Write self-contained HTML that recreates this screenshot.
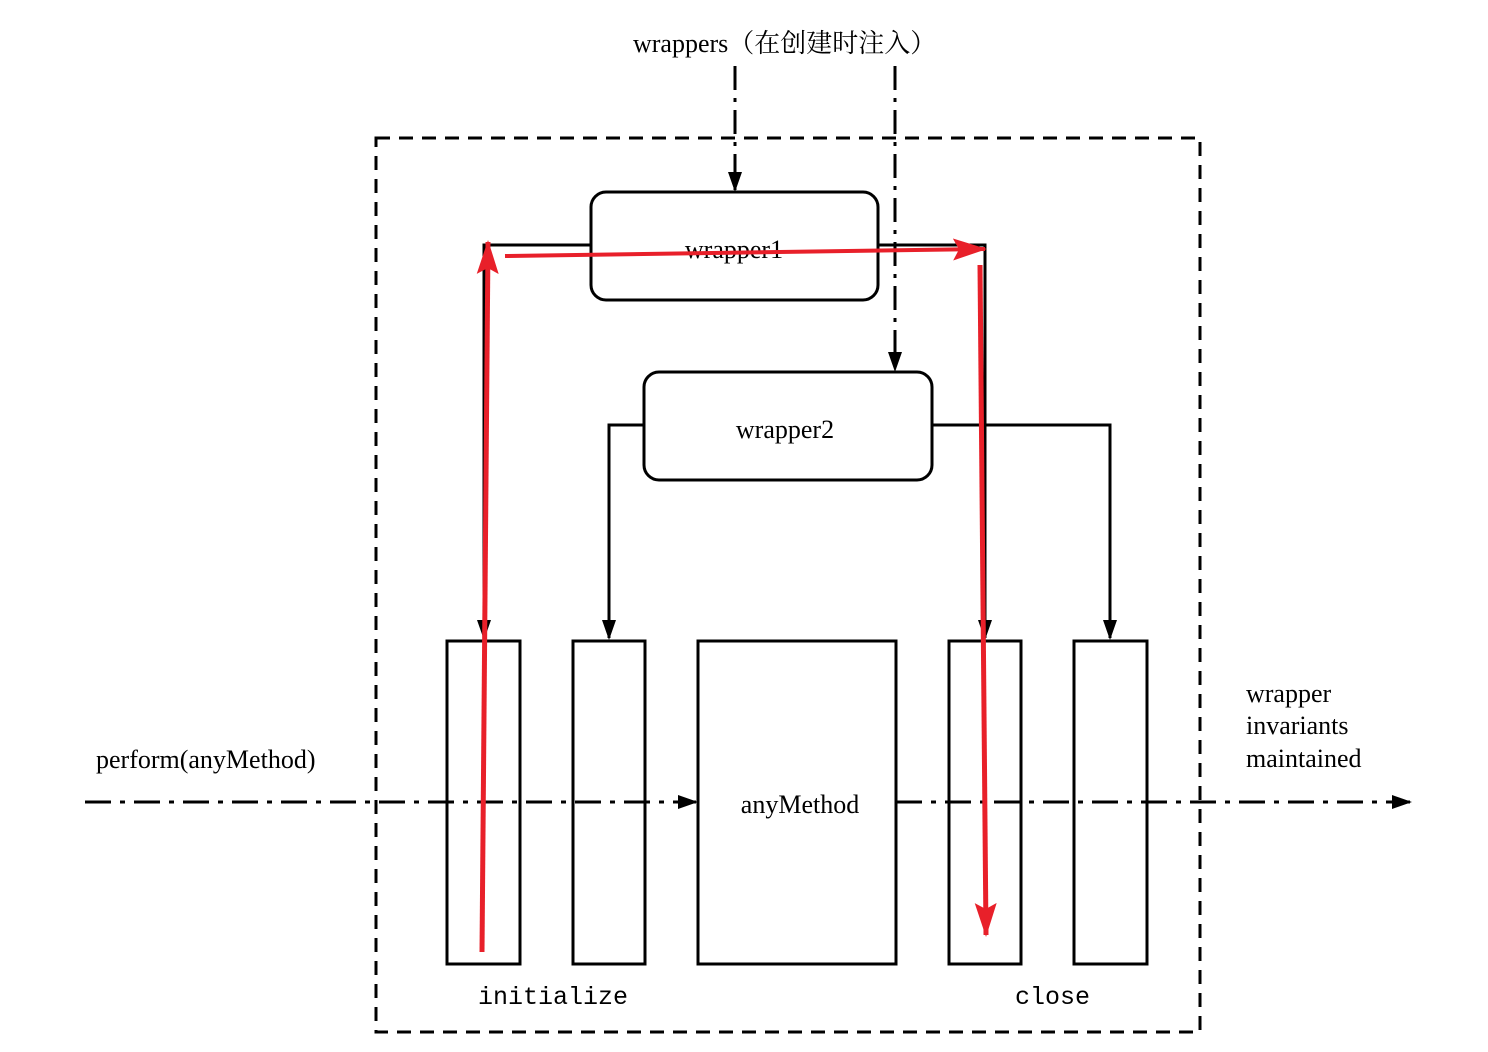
<!DOCTYPE html>
<html><head><meta charset="utf-8"><style>body{margin:0;background:#fff}svg{display:block}</style></head><body>
<svg width="1488" height="1052" viewBox="0 0 1488 1052" xmlns="http://www.w3.org/2000/svg">
<defs>
<marker id="a" markerWidth="10" markerHeight="10" refX="9" refY="5" orient="auto" markerUnits="userSpaceOnUse"><path d="M0,0 L10,5 L0,10z" fill="#000"/></marker>
<marker id="b" markerWidth="20" markerHeight="14" refX="18" refY="7" orient="auto" markerUnits="userSpaceOnUse"><path d="M0,0 L20,7 L0,14z" fill="#000"/></marker>
<marker id="r" markerWidth="34" markerHeight="22" refX="32" refY="11" orient="auto" markerUnits="userSpaceOnUse"><path d="M0,0 L34,11 L0,22 L6,11z" fill="#e8202a"/></marker>
</defs>
<g fill="none" stroke="#000" stroke-width="3">
<rect x="376" y="138" width="824" height="894" stroke-dasharray="14,9"/>
<rect x="591" y="192" width="287" height="108" rx="15"/>
<rect x="644" y="372" width="288" height="108" rx="15"/>
<rect x="447" y="641" width="73" height="323"/>
<rect x="573" y="641" width="72" height="323"/>
<rect x="698" y="641" width="198" height="323"/>
<rect x="949" y="641" width="72" height="323"/>
<rect x="1074" y="641" width="73" height="323"/>
<polyline points="591,245 484,245 484,638" marker-end="url(#b)"/>
<polyline points="878,245 985,245 985,638" marker-end="url(#b)"/>
<polyline points="644,425 609,425 609,638" marker-end="url(#b)"/>
<polyline points="932,425 1110,425 1110,638" marker-end="url(#b)"/>
<line x1="735" y1="66" x2="735" y2="190" stroke-dasharray="24,8,4,8" marker-end="url(#b)"/>
<line x1="895" y1="66" x2="895" y2="370" stroke-dasharray="24,8,4,8" marker-end="url(#b)"/>
<line x1="85" y1="802" x2="696" y2="802" stroke-dasharray="26,9,5,9" marker-end="url(#b)"/>
<line x1="896" y1="802" x2="1410" y2="802" stroke-dasharray="26,9,5,9" marker-end="url(#b)"/>
</g>
<g font-family="Liberation Serif, Noto Serif CJK SC, serif" font-size="26" fill="#000">
<text x="633" y="52">wrappers（在创建时注入）</text>
<text x="734" y="258" text-anchor="middle">wrapper1</text>
<text x="785" y="438" text-anchor="middle">wrapper2</text>
<text x="800" y="813" text-anchor="middle">anyMethod</text>
<text x="96" y="768">perform(anyMethod)</text>
<text x="1246" y="702">wrapper</text>
<text x="1246" y="734">invariants</text>
<text x="1246" y="767">maintained</text>
</g>
<g font-family="Liberation Mono, monospace" font-size="25" fill="#000">
<text x="478" y="1004">initialize</text>
<text x="1015" y="1004">close</text>
</g>
<g stroke="#e8202a" fill="none">
<line x1="482" y1="952" x2="488" y2="242" stroke-width="5" marker-end="url(#r)"/>
<line x1="505" y1="256" x2="985" y2="249" stroke-width="4" marker-end="url(#r)"/>
<line x1="980" y1="265" x2="986" y2="935" stroke-width="5" marker-end="url(#r)"/>
</g>
</svg>
</body></html>
